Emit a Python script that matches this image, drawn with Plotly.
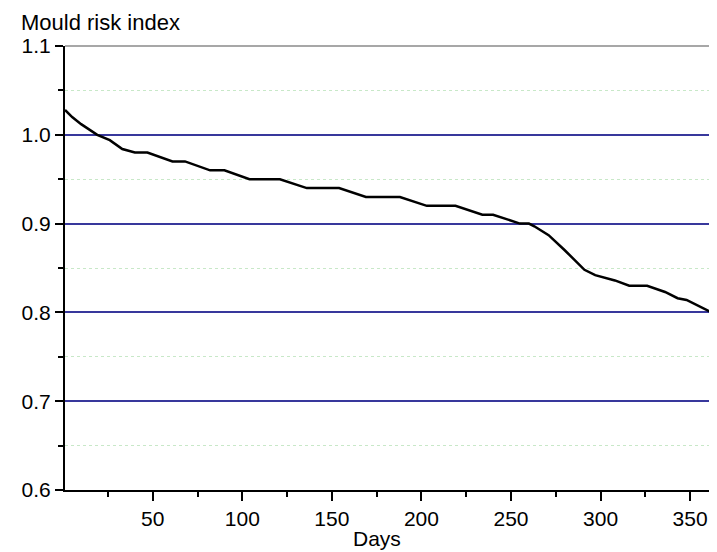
import plotly.graph_objects as go

# Data
days = [1, 5, 10, 15, 19, 26, 33, 40, 47, 61, 68, 82, 90, 104, 121, 136, 154,
        169, 188, 203, 219, 234, 240, 255, 260, 263, 271, 280, 291, 297, 308,
        316, 326, 336, 343, 348, 356, 362, 365]
mould_risk = [1.028, 1.020, 1.012, 1.005, 1.000, 0.994, 0.984, 0.980, 0.980,
              0.970, 0.970, 0.960, 0.960, 0.950, 0.950, 0.940, 0.940, 0.930,
              0.930, 0.920, 0.920, 0.910, 0.910, 0.900, 0.900, 0.897, 0.887,
              0.870, 0.848, 0.842, 0.836, 0.830, 0.830, 0.823, 0.816, 0.814,
              0.806, 0.800, 0.792]

y_major = [0.6, 0.7, 0.8, 0.9, 1.0, 1.1]
y_major_labels = ["0.6", "0.7", "0.8", "0.9", "1.0", "1.1"]
y_minor = [0.65, 0.75, 0.85, 0.95, 1.05]
x_major = [50, 100, 150, 200, 250, 300, 350]
x_minor = [25, 75, 125, 175, 225, 275, 325]

FONT = "Arial, Liberation Sans, sans-serif"

fig = go.Figure()
fig.add_trace(go.Scatter(x=days, y=mould_risk, mode="lines",
                         line=dict(color="black", width=2.5), showlegend=False))

fig.update_layout(
    width=709, height=544,
    margin=dict(l=57, r=0, t=38, b=62, autoexpand=False),
    paper_bgcolor="white", plot_bgcolor="white",
    font=dict(family=FONT, size=20, color="black"),
    xaxis=dict(range=[1, 365], tickvals=x_major, ticks="outside", ticklen=9,
               tickwidth=2, tickcolor="black", showline=True, linecolor="black",
               linewidth=2, showgrid=False, zeroline=False,
               tickfont=dict(size=21), automargin=False,
               minor=dict(tickvals=x_minor, ticks="outside", ticklen=5,
                          tickwidth=2, tickcolor="black", showgrid=False)),
    yaxis=dict(range=[0.6, 1.1], tickvals=y_major, ticktext=y_major_labels,
               ticks="outside", ticklen=8, tickwidth=2, tickcolor="black",
               showline=True, linecolor="black", linewidth=2,
               showgrid=True, gridcolor="#38389c", gridwidth=1.5, zeroline=False,
               tickfont=dict(size=21), automargin=False,
               minor=dict(tickvals=y_minor, ticks="outside", ticklen=5,
                          tickwidth=2, tickcolor="black", showgrid=True,
                          gridcolor="#c8e8c8", griddash="dot", gridwidth=1)),
    shapes=[
        dict(type="line", xref="paper", yref="paper", x0=0, x1=1, y0=1, y1=1,
             line=dict(color="#8a8a8a", width=1.5), layer="above"),
        dict(type="line", xref="paper", yref="paper", x0=0.999, x1=0.999, y0=0, y1=1,
             line=dict(color="#555555", width=1.5), layer="above"),
    ],
    annotations=[
        dict(text="Mould risk index", xref="paper", yref="paper",
             x=-0.069, y=1.0, yshift=10, xanchor="left", yanchor="bottom",
             borderpad=0, showarrow=False, font=dict(size=22, family=FONT)),
        dict(text="Days", xref="paper", yref="paper",
             x=0.478, y=0.0, yshift=-62, xanchor="center", yanchor="bottom",
             showarrow=False, font=dict(size=21, family=FONT)),
    ],
)

fig.write_html("out.html")
